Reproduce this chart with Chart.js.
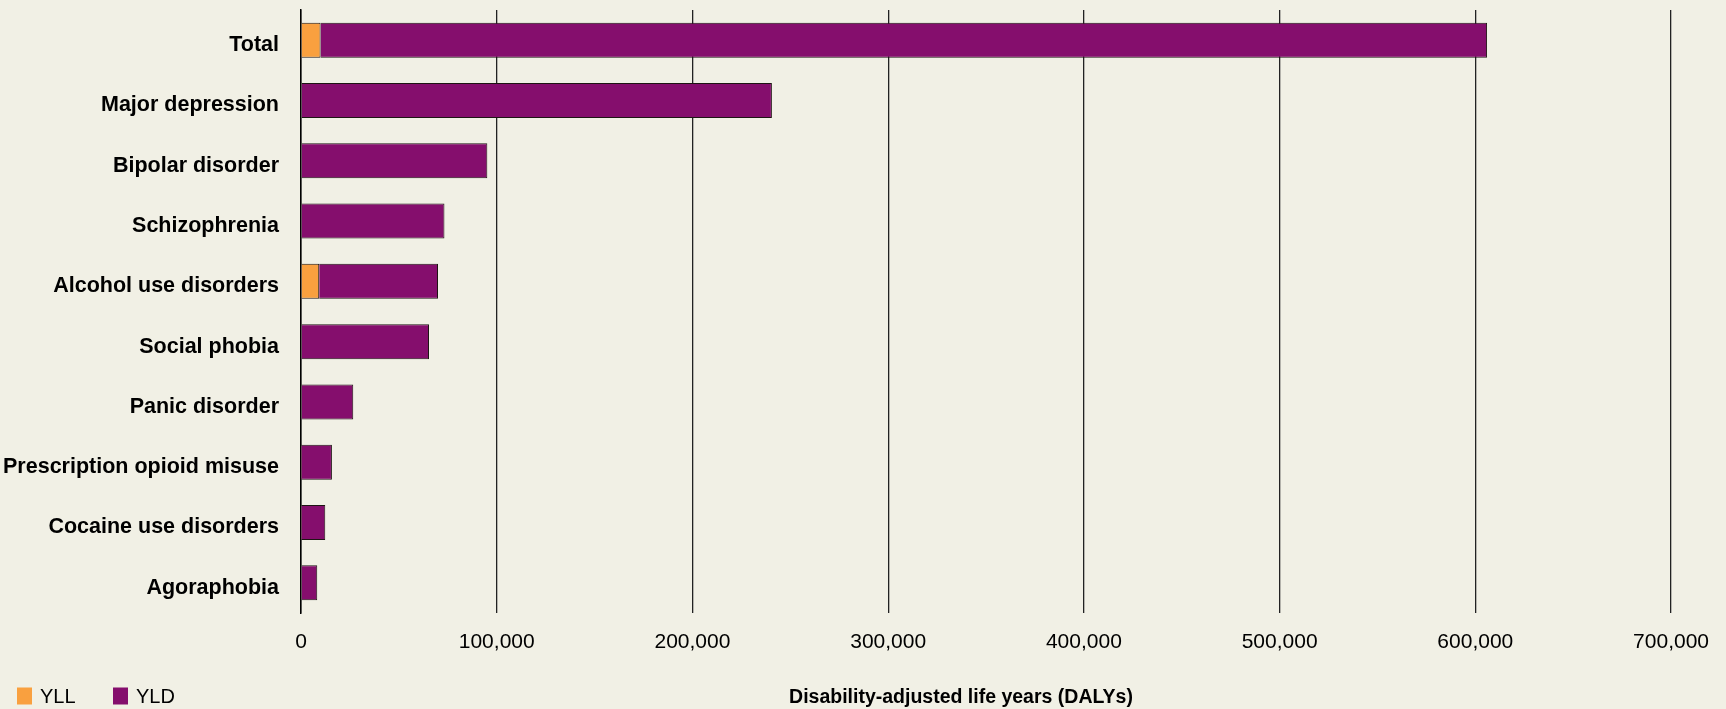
<!DOCTYPE html>
<html>
<head>
<meta charset="utf-8">
<script src="https://cdn.jsdelivr.net/npm/chart.js@4.4.1/dist/chart.umd.min.js"></script>
<style>
    html, body { margin: 0; padding: 0; background: #f1f0e5; }
    #wrap { width: 1726px; height: 709px; position: relative; }
</style>
</head>
<body>
<div id="wrap"><canvas id="chart-dalys"></canvas></div>
<script>
// Categories, top to bottom
const categories = [
    'Total',
    'Major depression',
    'Bipolar disorder',
    'Schizophrenia',
    'Alcohol use disorders',
    'Social phobia',
    'Panic disorder',
    'Prescription opioid misuse',
    'Cocaine use disorders',
    'Agoraphobia'
];

// Years of life lost (YLL)
const yllValues = [10000, 0, 0, 300, 9300, 0, 0, 200, 200, 0];

// Years lived with disability (YLD)
const yldValues = [596000, 240600, 95200, 73000, 60700, 65400, 26700, 15600, 12200, 8300];

const xTicks = [0, 100000, 200000, 300000, 400000, 500000, 600000, 700000];

const xTitle = 'Disability-adjusted life years (DALYs)';

const FONT = "'Liberation Sans', Arial, Helvetica, sans-serif";

// Legend and axis title share one row under the ticks, so draw them here
const bottomRow = {
    id: 'bottomRow',
    afterDraw(chart) {
        const c = chart.ctx;
        const rowY = 696;
        c.save();
        c.textBaseline = 'middle';

        // legend
        let x = 17;
        chart.data.datasets.forEach(ds => {
            c.fillStyle = ds.backgroundColor;
            c.fillRect(x, rowY - 8.5, 15, 17);
            c.fillStyle = '#000';
            c.font = '20px ' + FONT;
            c.textAlign = 'left';
            c.fillText(ds.label, x + 23, rowY + 1);
            x += 96;
        });

        // x axis title
        c.font = 'bold 19.5px ' + FONT;
        c.textAlign = 'center';
        c.fillText(xTitle, 961, rowY + 2);
        c.restore();
    }
};

const ctx = document.getElementById('chart-dalys').getContext('2d');
const chart = new Chart(ctx, {
    type: 'bar',
    data: {
        labels: categories,
        datasets: [
            {
                label: 'YLL',
                data: yllValues,
                backgroundColor: '#f9a03f',
                borderColor: '#1e1414',
                borderWidth: 1,
                barPercentage: 0.58,
                categoryPercentage: 1
            },
            {
                label: 'YLD',
                data: yldValues,
                backgroundColor: '#850e6d',
                borderColor: '#1e1414',
                borderWidth: 1,
                barPercentage: 0.58,
                categoryPercentage: 1
            }
        ]
    },
    plugins: [bottomRow],
    options: {
        indexAxis: 'y',
        responsive: true,
        maintainAspectRatio: false,
        animation: false,
        layout: {
            padding: { left: 0, right: 52, top: 10, bottom: 0 }
        },
        plugins: {
            legend: { display: false },
            tooltip: { enabled: false }
        },
        scales: {
            x: {
                stacked: true,
                min: 0,
                max: 700000,
                afterBuildTicks: function(scale) {
                    scale.ticks = xTicks.map(v => ({ value: v }));
                },
                afterFit: function(scale) {
                    scale.height = 96;
                },
                ticks: {
                    color: '#000',
                    padding: 17,
                    maxRotation: 0,
                    font: { family: FONT, size: 21 },
                    callback: function(value) {
                        return value.toLocaleString('en-US');
                    }
                },
                grid: {
                    color: '#222',
                    lineWidth: 1.3,
                    drawTicks: false
                },
                border: { display: false }
            },
            y: {
                stacked: true,
                afterFit: function(scale) {
                    scale.width = 301;
                    scale.paddingTop = 0;
                    scale.paddingBottom = 0;
                },
                ticks: {
                    color: '#000',
                    padding: 22,
                    labelOffset: 5,
                    font: { family: FONT, size: 21.5, weight: 'bold' }
                },
                grid: { display: false, drawTicks: false },
                border: { display: true, color: '#000', width: 1.5 }
            }
        }
    }
});
</script>
</body>
</html>
